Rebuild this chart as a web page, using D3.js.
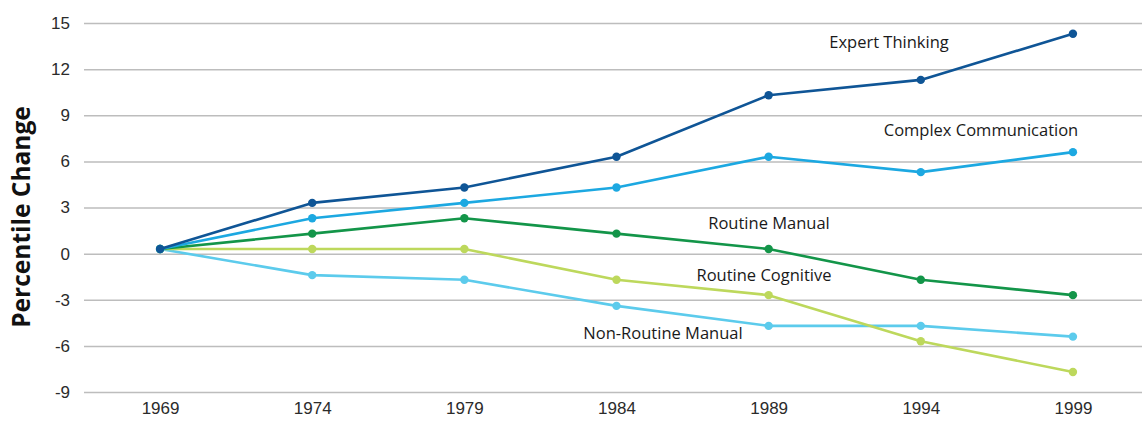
<!DOCTYPE html>
<html>
<head>
<meta charset="utf-8">
<script src="https://cdn.jsdelivr.net/npm/d3@7"></script>
<style>
  body { margin: 0; background: #fff; }
  svg { display: block; font-family: "Open Sans", "Noto Sans", sans-serif; }
</style>
</head>
<body>
<svg id="chart" width="1142" height="421"></svg>
<script>
// data
const years = ["1969", "1974", "1979", "1984", "1989", "1994", "1999"];
const yTicks = [15, 12, 9, 6, 3, 0, -3, -6, -9];
const expertThinking = [0.3, 3.3, 4.3, 6.3, 10.3, 11.3, 14.3];
const complexCommunication = [0.3, 2.3, 3.3, 4.3, 6.3, 5.3, 6.6];
const routineManual = [0.3, 1.3, 2.3, 1.3, 0.3, -1.7, -2.7];
const routineCognitive = [0.3, 0.3, 0.3, -1.7, -2.7, -5.7, -7.7];
const nonRoutineManual = [0.3, -1.4, -1.7, -3.4, -4.7, -4.7, -5.4];

const series = [
  { name: "Non-Routine Manual", values: nonRoutineManual, color: "#5ccbec", lx: 663, ly: 339 },
  { name: "Routine Cognitive", values: routineCognitive, color: "#bdd85c", lx: 764, ly: 281 },
  { name: "Routine Manual", values: routineManual, color: "#139549", lx: 769, ly: 229 },
  { name: "Complex Communication", values: complexCommunication, color: "#1ca8e1", lx: 981, ly: 136 },
  { name: "Expert Thinking", values: expertThinking, color: "#0f5596", lx: 889, ly: 48 }
];

const svg = d3.select("#chart");

const x = d3.scalePoint()
  .domain(years)
  .range([84, 1149])
  .padding(0.5);

const y = d3.scaleLinear()
  .domain([-9, 15])
  .range([392, 23]);

// gridlines + y labels
const yAxis = d3.axisLeft(y)
  .tickValues(yTicks)
  .tickSize(-(1142 - 84))
  .tickPadding(14)
  .tickFormat(d => String(d));

const gy = svg.append("g")
  .attr("transform", "translate(84,0)")
  .call(yAxis);
gy.select(".domain").remove();
gy.selectAll(".tick line")
  .attr("stroke", "#bdbdbd")
  .attr("stroke-width", 1.5);
gy.selectAll(".tick text")
  .attr("fill", "#2b2b2b")
  .attr("font-size", 17);

const xAxis = d3.axisBottom(x)
  .tickSize(0)
  .tickPadding(0);

const gx = svg.append("g")
  .attr("transform", "translate(0,402)")
  .call(xAxis);
gx.select(".domain").remove();
gx.selectAll(".tick text")
  .attr("fill", "#2b2b2b")
  .attr("font-size", 17)
  .attr("dy", "0.71em");

// y title
svg.append("text")
  .attr("transform", "translate(30,217) rotate(-90)")
  .attr("text-anchor", "middle")
  .attr("font-size", 24.5)
  .attr("font-weight", "bold")
  .attr("fill", "#111")
  .text("Percentile Change");

const line = d3.line()
  .x((d, i) => x(years[i]))
  .y(d => y(d));

const g = svg.append("g");

series.forEach(s => {
  g.append("path")
    .datum(s.values)
    .attr("fill", "none")
    .attr("stroke", s.color)
    .attr("stroke-width", 2.6)
    .attr("stroke-linejoin", "round")
    .attr("d", line);

  g.selectAll(null)
    .data(s.values)
    .enter().append("circle")
    .attr("cx", (d, i) => x(years[i]))
    .attr("cy", d => y(d))
    .attr("r", 4.2)
    .attr("fill", s.color);

  svg.append("text")
    .attr("x", s.lx)
    .attr("y", s.ly)
    .attr("text-anchor", "middle")
    .attr("font-size", 16.5)
    .attr("fill", "#1a1a1a")
    .text(s.name);
});
</script>
</body>
</html>
